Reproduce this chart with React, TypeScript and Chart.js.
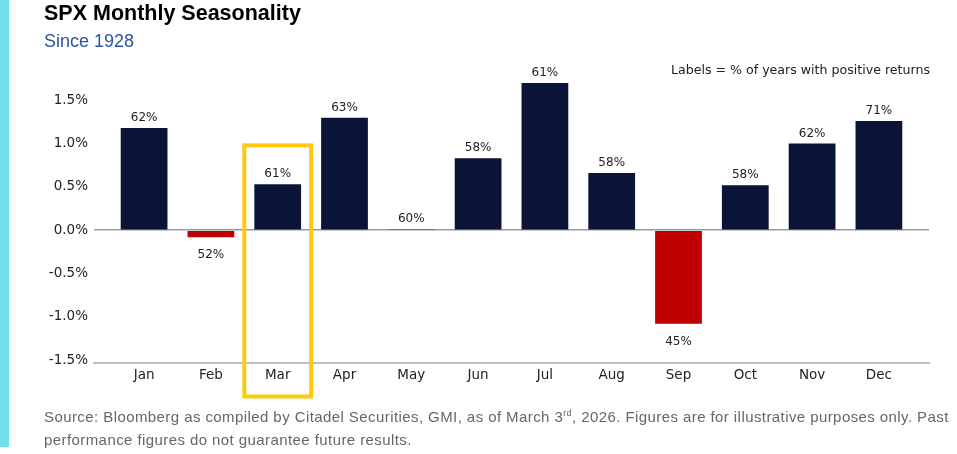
import React, { useEffect, useRef } from "react";
import { Chart, registerables } from "chart.js";

Chart.register(...registerables);

const months = ["Jan", "Feb", "Mar", "Apr", "May", "Jun", "Jul", "Aug", "Sep", "Oct", "Nov", "Dec"];
const avgReturns = [1.18, -0.08, 0.53, 1.3, 0.01, 0.83, 1.7, 0.66, -1.08, 0.52, 1.0, 1.26];
const pctPositive = [62, 52, 61, 63, 60, 58, 61, 58, 45, 58, 62, 71];
const yTicks = [-1.5, -1.0, -0.5, 0.0, 0.5, 1.0, 1.5];
const highlightIndex = 2;
const highlightTop = 0.98;
const highlightBottom = -1.92;

const NAVY = "#0a1438";
const RED = "#c00000";
const FONT = "'DejaVu Sans', sans-serif";

export default function App() {
  const ref = useRef<HTMLCanvasElement | null>(null);

  useEffect(() => {
    document.body.style.margin = "0";
    const canvas = ref.current;
    if (!canvas) return;

    const labelPlugin = {
      id: "barLabels",
      afterDatasetsDraw(chart: any) {
        const ctx = chart.ctx;
        const meta = chart.getDatasetMeta(0);
        ctx.save();
        ctx.font = `12px ${FONT}`;
        ctx.fillStyle = "#222";
        ctx.textAlign = "center";
        meta.data.forEach((bar: any, i: number) => {
          const v = avgReturns[i];
          const txt = `${pctPositive[i]}%`;
          if (v >= 0) {
            ctx.textBaseline = "bottom";
            ctx.fillText(txt, bar.x, bar.y - 4);
          } else {
            ctx.textBaseline = "top";
            ctx.fillText(txt, bar.x, bar.y + 12);
          }
        });
        // note
        ctx.font = `12.6px ${FONT}`;
        ctx.textAlign = "right";
        ctx.textBaseline = "middle";
        ctx.fillText("Labels = % of years with positive returns", 930, 71);
        // highlight box
        const xs = chart.scales.x;
        const ys = chart.scales.y;
        ctx.strokeStyle = "#ffc90e";
        ctx.lineWidth = 4;
        const l = xs.getPixelForValue(highlightIndex - 0.5);
        const r = xs.getPixelForValue(highlightIndex + 0.5);
        const t = ys.getPixelForValue(highlightTop);
        const b = ys.getPixelForValue(highlightBottom);
        ctx.strokeRect(l, t, r - l, b - t);
        ctx.restore();
      },
    };

    const chart = new Chart(canvas, {
      type: "bar",
      data: {
        datasets: [
          {
            data: avgReturns.map((v, i) => ({ x: i, y: v })),
            backgroundColor: avgReturns.map((v) => (v < 0 ? RED : NAVY)),
            barPercentage: 0.7,
            categoryPercentage: 1.0,
          },
        ],
      },
      options: {
        animation: false,
        responsive: false,
        devicePixelRatio: 1,
        layout: { padding: { left: 0, right: 28, top: 70, bottom: 61.3 } },
        plugins: { legend: { display: false }, tooltip: { enabled: false } },
        scales: {
          x: {
            type: "linear",
            offset: false,
            min: -0.75,
            max: 11.75,
            afterBuildTicks: (s: any) => {
              s.ticks = months.map((_, i) => ({ value: i }));
            },
            afterFit: (s: any) => {
              s.height = 30;
            },
            ticks: {
              callback: (v: any) => months[v as number] ?? "",
              font: { family: FONT, size: 13.5 },
              color: "#222",
              padding: 5,
              maxRotation: 0,
              autoSkip: false,
            },
            grid: { display: false, drawTicks: false },
            border: { display: true, color: "#bfbfbf", width: 2 },
          },
          y: {
            type: "linear",
            min: -1.53,
            max: 1.85,
            afterBuildTicks: (s: any) => {
              s.ticks = yTicks.map((v) => ({ value: v }));
            },
            afterFit: (s: any) => {
              s.width = 94;
            },
            ticks: {
              callback: (v: any) => `${Number(v).toFixed(1)}%`,
              font: { family: FONT, size: 13.5 },
              color: "#222",
              padding: 6,
            },
            grid: {
              drawTicks: false,
              color: (c: any) => (c.tick && c.tick.value === 0 ? "#9a9a9a" : "rgba(0,0,0,0)"),
              lineWidth: (c: any) => (c.tick && c.tick.value === 0 ? 1.5 : 0),
            },
            border: { display: false },
          },
        },
      },
      plugins: [labelPlugin],
    });
    return () => chart.destroy();
  }, []);

  return (
    <div style={{ position: "relative", width: 957, height: 454, background: "#fff", overflow: "hidden" }}>
      <div style={{ position: "absolute", left: 0, top: 0, width: 9, height: 447, background: "#70e0e6" }} />
      <canvas ref={ref} width={957} height={454} style={{ position: "absolute", left: 0, top: 0, width: 957, height: 454 }} />
      <div
        style={{
          position: "absolute",
          left: 44,
          top: 1,
          fontFamily: "'Liberation Sans', Arial, sans-serif",
          fontWeight: "bold",
          fontSize: 21.5,
          color: "#000",
          lineHeight: "24px",
          whiteSpace: "nowrap",
        }}
      >
        SPX Monthly Seasonality
      </div>
      <div
        style={{
          position: "absolute",
          left: 44,
          top: 31,
          fontFamily: "'Liberation Sans', Arial, sans-serif",
          fontSize: 18,
          color: "#2b55a0",
          lineHeight: "20px",
          whiteSpace: "nowrap",
        }}
      >
        Since 1928
      </div>
      <div
        style={{
          position: "absolute",
          left: 44,
          top: 405,
          width: 912,
          fontFamily: "'Liberation Sans', Arial, sans-serif",
          fontSize: 15,
          letterSpacing: "0.42px",
          color: "#666",
          lineHeight: "23px",
        }}
      >
        Source: Bloomberg as compiled by Citadel Securities, GMI, as of March 3<sup style={{ fontSize: 9, lineHeight: 0 }}>rd</sup>, 2026. Figures are for illustrative purposes only. Past performance figures do not guarantee future results.
      </div>
    </div>
  );
}
